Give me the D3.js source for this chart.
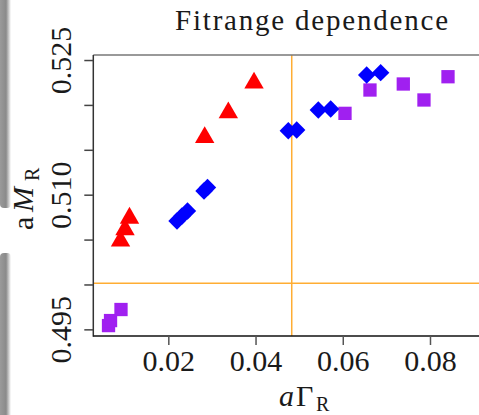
<!DOCTYPE html>
<html>
<head>
<meta charset="utf-8">
<script src="https://cdn.jsdelivr.net/npm/d3@7"></script>
<style>
  body { margin: 0; background: #fff; }
  svg { display: block; }
  text { font-family: "Liberation Serif", "Times New Roman", serif; fill: #1a1a1a; }
</style>
</head>
<body>
<svg class="fitrange" width="479" height="415"></svg>
<script>
// values
var triangleGamma = [0.00904, 0.01007, 0.01110, 0.02834, 0.03376, 0.03965];
var triangleMass  = [0.50484, 0.50612, 0.50740, 0.51637, 0.51914, 0.52246];

var diamondGamma = [0.02199, 0.02314, 0.02440, 0.02818, 0.02899, 0.04751, 0.04944, 0.05439, 0.05723, 0.06548, 0.06869];
var diamondMass  = [0.50707, 0.50762, 0.50818, 0.51041, 0.51080, 0.51712, 0.51720, 0.51943, 0.51954, 0.52333, 0.52359];

var squareGamma = [0.00629, 0.00675, 0.00915, 0.06051, 0.06624, 0.07388, 0.07862, 0.08413];
var squareMass  = [0.49542, 0.49598, 0.49721, 0.51906, 0.52166, 0.52233, 0.52055, 0.52314];

var refGamma = 0.0483;
var refMass = 0.50013;

var xTicks = [0.02, 0.04, 0.06, 0.08];
var yTicks = [0.495, 0.500, 0.505, 0.510, 0.515, 0.520, 0.525];
var yTickLabels = ["0.495", "", "", "0.510", "", "", "0.525"];

function drawFitrange() {
  var svg = d3.select("svg.fitrange");

  // the page-edge shadow on the left
  var defs = svg.append("defs");
  var grad = defs.append("linearGradient").attr("id", "edge").attr("x1", "0").attr("x2", "1");
  grad.append("stop").attr("offset", "0%").attr("stop-color", "#9a9a9a");
  grad.append("stop").attr("offset", "55%").attr("stop-color", "#8a8a8a");
  grad.append("stop").attr("offset", "100%").attr("stop-color", "#ffffff");
  svg.append("rect").attr("x", 0).attr("y", -10).attr("width", 11).attr("height", 218)
    .attr("rx", 4).attr("fill", "url(#edge)");
  svg.append("rect").attr("x", 0).attr("y", 253).attr("width", 11).attr("height", 175)
    .attr("rx", 4).attr("fill", "url(#edge)");

  var plotLeft = 93.3, plotRight = 490, plotTop = 55, plotBottom = 336;

  var x = d3.scaleLinear().domain([0.0028, 0.09376]).range([plotLeft, plotRight]);
  var y = d3.scaleLinear().domain([0.49426, 0.52556]).range([plotBottom, plotTop]);

  // reference lines
  svg.append("line")
    .attr("x1", x(refGamma)).attr("x2", x(refGamma))
    .attr("y1", plotTop).attr("y2", plotBottom)
    .attr("stroke", "#ffad33").attr("stroke-width", 1.5);
  svg.append("line")
    .attr("x1", plotLeft).attr("x2", plotRight)
    .attr("y1", y(refMass)).attr("y2", y(refMass))
    .attr("stroke", "#ffad33").attr("stroke-width", 1.5);

  // frame
  svg.append("line").attr("x1", plotLeft).attr("x2", plotRight).attr("y1", plotTop).attr("y2", plotTop)
    .attr("stroke", "#777").attr("stroke-width", 1.5);
  svg.append("line").attr("x1", plotLeft).attr("x2", plotLeft).attr("y1", plotTop).attr("y2", plotBottom + 0.7)
    .attr("stroke", "#333").attr("stroke-width", 1.5);
  svg.append("line").attr("x1", plotLeft).attr("x2", plotRight).attr("y1", plotBottom).attr("y2", plotBottom)
    .attr("stroke", "#111").attr("stroke-width", 1.5);

  // ticks on x axis
  var gx = svg.append("g")
    .attr("class", "axis axis--x")
    .attr("transform", "translate(0," + plotBottom + ")")
    .call(d3.axisBottom(x).tickValues(xTicks).tickSize(9).tickSizeOuter(0)
      .tickFormat(function(d) { return d3.format(".2f")(d); }));
  gx.select(".domain").remove();
  gx.selectAll(".tick line").attr("stroke", "#555").attr("stroke-width", 1.5);
  gx.selectAll(".tick text")
    .attr("y", 34.7).attr("dy", 0)
    .style("font-family", "Liberation Serif")
    .style("font-size", "30px")
    .style("fill", "#1a1a1a");

  // ticks on y axis
  var gy = svg.append("g")
    .attr("class", "axis axis--y")
    .attr("transform", "translate(" + plotLeft + ",0)")
    .call(d3.axisLeft(y).tickValues(yTicks).tickSize(9).tickSizeOuter(0)
      .tickFormat(function(d, i) { return yTickLabels[i]; }));
  gy.select(".domain").remove();
  gy.selectAll(".tick line").attr("stroke", "#444").attr("stroke-width", 1.5);
  gy.selectAll(".tick text")
    .attr("transform", "rotate(-90)")
    .attr("x", 0).attr("y", -22.6).attr("dy", 0)
    .attr("text-anchor", "middle")
    .style("font-family", "Liberation Serif")
    .style("font-size", "30px")
    .style("fill", "#1a1a1a");

  // markers
  var tri = d3.symbol().type(d3.symbolTriangle).size(163);
  var sq = d3.symbol().type(d3.symbolSquare).size(177);
  var dia = d3.symbol().type(d3.symbolSquare).size(151);

  svg.append("g").selectAll("path")
    .data(squareGamma)
    .enter().append("path")
    .attr("d", sq)
    .attr("transform", function(d, i) { return "translate(" + x(d) + "," + y(squareMass[i]) + ")"; })
    .attr("fill", "#a020f0");

  svg.append("g").selectAll("path")
    .data(diamondGamma)
    .enter().append("path")
    .attr("d", dia)
    .attr("transform", function(d, i) { return "translate(" + x(d) + "," + y(diamondMass[i]) + ") rotate(45)"; })
    .attr("fill", "#0000ff");

  svg.append("g").selectAll("path")
    .data(triangleGamma)
    .enter().append("path")
    .attr("d", tri)
    .attr("transform", function(d, i) { return "translate(" + x(d) + "," + y(triangleMass[i]) + ")"; })
    .attr("fill", "#ff0000");

  // title
  svg.append("text")
    .attr("x", 175).attr("y", 30)
    .attr("textLength", 273).attr("lengthAdjust", "spacing")
    .style("font-size", "29px")
    .text("Fitrange dependence");

  // x label
  var xl = svg.append("text").attr("y", 405.5).style("font-size", "30px");
  xl.append("tspan").attr("x", 279).style("font-style", "italic").text("a");
  xl.append("tspan").attr("x", 296).text("\u0393");
  xl.append("tspan").attr("x", 316).attr("dy", 5).style("font-size", "20px").text("R");

  // y label
  var yl = svg.append("text")
    .attr("transform", "translate(33.3,0) rotate(-90)")
    .style("font-size", "30px");
  yl.append("tspan").attr("x", -230).text("a");
  yl.append("tspan").attr("x", -212).style("font-style", "italic").text("M");
  yl.append("tspan").attr("x", -181).attr("dy", 5.5).style("font-size", "20px").text("R");
}

drawFitrange();
</script>
</body>
</html>
